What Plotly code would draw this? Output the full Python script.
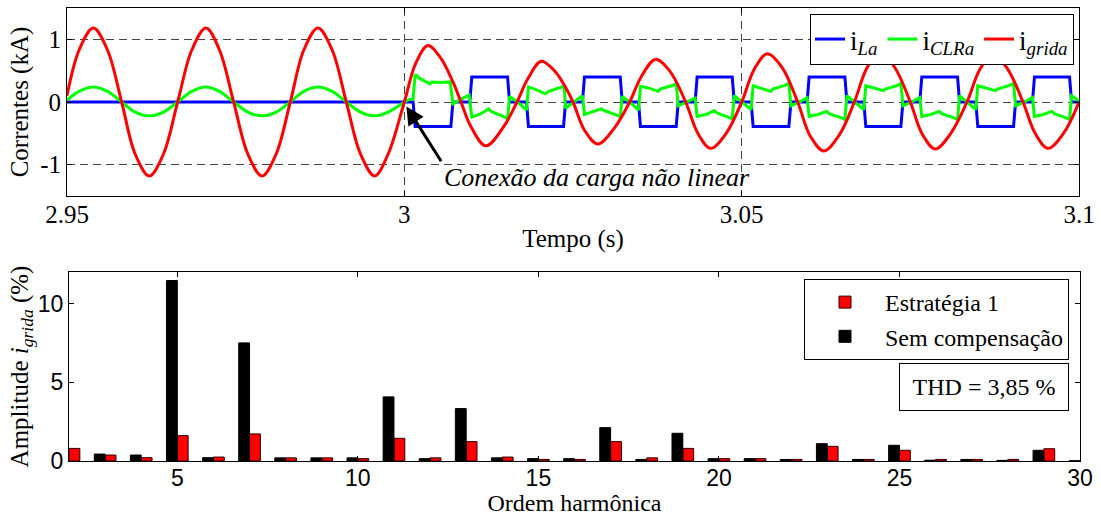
import plotly.graph_objects as go

# ---------------- top panel: currents (kA) vs time (s) ----------------
t_red = [2.9500, 2.9518, 2.9539, 2.9560, 2.9581, 2.9601, 2.9622, 2.9643, 2.9664,
         2.9685, 2.9706, 2.9726, 2.9747, 2.9768, 2.9789, 2.9810, 2.9831, 2.9851,
         2.9872, 2.9893, 2.9914, 2.9935, 2.9956, 2.9976, 3.0000,
         3.0017, 3.0035, 3.0054, 3.0072, 3.0084, 3.0099, 3.0121, 3.0148, 3.0167,
         3.0183, 3.0203, 3.0224, 3.0237, 3.0250, 3.0267, 3.0287, 3.0311, 3.0334,
         3.0351, 3.0372, 3.0393, 3.0417, 3.0435, 3.0454, 3.0477, 3.0500,
         3.0519, 3.0538, 3.0560, 3.0583, 3.0602, 3.0622, 3.0645, 3.0667,
         3.0686, 3.0705, 3.0727, 3.0750, 3.0768, 3.0787, 3.0810, 3.0834,
         3.0853, 3.0872, 3.0894, 3.0917, 3.0935, 3.0954, 3.0977, 3.1000]
v_red = [0.10, 0.83, 1.18, 0.83, 0.00, -0.83, -1.18, -0.83, 0.00,
         0.83, 1.18, 0.83, 0.00, -0.83, -1.18, -0.83, 0.00, 0.83,
         1.18, 0.83, 0.00, -0.83, -1.18, -0.83, 0.00,
         0.62, 0.90, 0.70, 0.32, 0.00, -0.40, -0.70, -0.38, 0.00,
         0.37, 0.65, 0.48, 0.27, 0.00, -0.45, -0.67, -0.42, 0.00,
         0.40, 0.68, 0.50, 0.00, -0.50, -0.74, -0.50, 0.00,
         0.53, 0.77, 0.55, 0.00, -0.55, -0.78, -0.52, 0.00,
         0.55, 0.80, 0.55, 0.00, -0.52, -0.75, -0.50, 0.00,
         0.52, 0.76, 0.53, 0.00, -0.50, -0.74, -0.50, 0.00]

t_green_pre = [2.9500, 2.9518, 2.9539, 2.9560, 2.9581, 2.9601, 2.9622, 2.9643, 2.9664,
               2.9685, 2.9706, 2.9726, 2.9747, 2.9768, 2.9789, 2.9810, 2.9831, 2.9851,
               2.9872, 2.9893, 2.9914, 2.9935, 2.9956, 2.9976, 3.0000]
v_green_pre = [0.03, 0.17, 0.24, 0.17, 0.00, -0.16, -0.22, -0.16, 0.00,
               0.17, 0.24, 0.17, 0.00, -0.16, -0.22, -0.16, 0.00, 0.17,
               0.24, 0.17, 0.00, -0.16, -0.22, -0.16, 0.00]

t_green_post = [3.0000, 3.0008, 3.0013, 3.0016, 3.0022, 3.0030, 3.0038, 3.0041, 3.0055,
                3.0068, 3.0072, 3.0085, 3.0096, 3.0100, 3.0113, 3.0125, 3.0130, 3.0145,
                3.0153, 3.0156, 3.0170, 3.0181,
                3.0184, 3.0197, 3.0209, 3.0214, 3.0230, 3.0237, 3.0239, 3.0252, 3.0264,
                3.0267, 3.0280, 3.0292, 3.0297, 3.0313, 3.0320, 3.0323, 3.0336, 3.0347,
                3.0350, 3.0363, 3.0376, 3.0380, 3.0396, 3.0403, 3.0406, 3.0419, 3.0431,
                3.0434, 3.0447, 3.0459, 3.0464, 3.0480, 3.0486, 3.0489, 3.0502, 3.0514,
                3.0517, 3.0530, 3.0543, 3.0547, 3.0563, 3.0570, 3.0573, 3.0586, 3.0597,
                3.0600, 3.0613, 3.0626, 3.0630, 3.0647, 3.0653, 3.0656, 3.0669, 3.0681,
                3.0684, 3.0697, 3.0710, 3.0714, 3.0730, 3.0736, 3.0739, 3.0752, 3.0764,
                3.0767, 3.0780, 3.0793, 3.0797, 3.0814, 3.0820, 3.0823, 3.0836, 3.0847,
                3.0850, 3.0863, 3.0876, 3.0880, 3.0896, 3.0903, 3.0906, 3.0919, 3.0931,
                3.0934, 3.0947, 3.0960, 3.0964, 3.0980, 3.0986, 3.0989, 3.1000]
v_green_post = [0.00, 0.04, 0.05, 0.44, 0.38, 0.34, 0.29, 0.32, 0.31,
                0.32, -0.03, 0.05, 0.11, -0.24, -0.19, -0.11, -0.16, -0.22,
                -0.27, 0.09, -0.02, -0.13,
                0.24, 0.19, 0.13, 0.17, 0.22, 0.25, -0.10, 0.00, 0.10,
                -0.20, -0.15, -0.11, -0.14, -0.20, -0.24, 0.09, -0.02, -0.13,
                0.25, 0.22, 0.17, 0.21, 0.26, 0.29, -0.06, 0.00, 0.06,
                -0.23, -0.20, -0.14, -0.18, -0.24, -0.27, 0.10, -0.02, -0.12,
                0.26, 0.22, 0.17, 0.21, 0.26, 0.30, -0.06, 0.00, 0.07,
                -0.23, -0.20, -0.15, -0.19, -0.25, -0.28, 0.10, -0.02, -0.12,
                0.26, 0.22, 0.18, 0.21, 0.26, 0.30, -0.06, 0.00, 0.07,
                -0.23, -0.20, -0.15, -0.19, -0.25, -0.28, 0.10, -0.02, -0.12,
                0.26, 0.22, 0.18, 0.21, 0.26, 0.30, -0.06, 0.00, 0.07,
                -0.23, -0.20, -0.15, -0.19, -0.25, -0.28, 0.10, 0.02]

t_blue = [2.9500, 3.0013, 3.0016, 3.0069, 3.0072, 3.0097, 3.0100, 3.0153, 3.0156,
          3.0181, 3.0184, 3.0236, 3.0239, 3.0264, 3.0267, 3.0320, 3.0323,
          3.0347, 3.0350, 3.0403, 3.0406, 3.0431, 3.0434, 3.0486, 3.0489,
          3.0514, 3.0517, 3.0570, 3.0573, 3.0597, 3.0600, 3.0653, 3.0656,
          3.0681, 3.0684, 3.0736, 3.0739, 3.0764, 3.0767, 3.0820, 3.0823,
          3.0847, 3.0850, 3.0903, 3.0906, 3.0931, 3.0934, 3.0986, 3.0989, 3.1000]
v_blue = [0.00, 0.00, -0.39, -0.39, 0.00, 0.00, 0.40, 0.40, 0.00,
          0.00, -0.39, -0.39, 0.00, 0.00, 0.40, 0.40, 0.00,
          0.00, -0.39, -0.39, 0.00, 0.00, 0.40, 0.40, 0.00,
          0.00, -0.39, -0.39, 0.00, 0.00, 0.40, 0.40, 0.00,
          0.00, -0.39, -0.39, 0.00, 0.00, 0.40, 0.40, 0.00,
          0.00, -0.39, -0.39, 0.00, 0.00, 0.40, 0.40, 0.00, 0.00]

time_ticks = [2.95, 3.0, 3.05, 3.1]
time_ticktext = ["2.95", "3", "3.05", "3.1"]
current_ticks = [-1, 0, 1]

# ---------------- bottom panel: harmonic spectrum (%) ----------------
harmonics = list(range(2, 31))
estrategia1 = [0.80, 0.38, 0.21, 1.61, 0.25, 1.72, 0.20, 0.20, 0.15, 1.44, 0.20, 1.23,
               0.25, 0.10, 0.10, 1.23, 0.20, 0.80, 0.15, 0.15, 0.10, 0.93, 0.10, 0.68,
               0.10, 0.10, 0.10, 0.78, 0.05]
sem_compensacao = [None, 0.44, 0.38, 11.46, 0.21, 7.50, 0.20, 0.20, 0.20, 4.07, 0.15, 3.33,
                   0.20, 0.15, 0.15, 2.12, 0.10, 1.76, 0.15, 0.15, 0.10, 1.10, 0.10, 1.00,
                   0.05, 0.10, 0.04, 0.68, 0.02]
harm_ticks = [5, 10, 15, 20, 25, 30]
amp_ticks = [0, 5, 10]

SERIF = "Liberation Serif"
SANS = "Liberation Sans"
W, H = 1101, 516

def px_x(p):
    return p / W

def px_y(p):
    return 1 - p / H

fig = go.Figure()

fig.add_trace(go.Scatter(x=t_blue, y=v_blue, mode="lines", name="i<sub><i>La</i></sub>",
                         line=dict(color="#0000FF", width=3), xaxis="x", yaxis="y",
                         legend="legend"))
fig.add_trace(go.Scatter(x=t_green_pre, y=v_green_pre, mode="lines", name="i<sub><i>CLRa</i></sub>",
                         line=dict(color="#00FF00", width=3, shape="spline"), xaxis="x", yaxis="y",
                         legendgroup="g", legend="legend"))
fig.add_trace(go.Scatter(x=t_green_post, y=v_green_post, mode="lines", name="i<sub><i>CLRa</i></sub>",
                         line=dict(color="#00FF00", width=3), xaxis="x", yaxis="y",
                         legendgroup="g", showlegend=False, legend="legend"))
fig.add_trace(go.Scatter(x=t_red, y=v_red, mode="lines", name="i<sub><i>grida</i></sub>",
                         line=dict(color="#FF0000", width=3, shape="spline"), xaxis="x", yaxis="y",
                         legend="legend"))

fig.add_trace(go.Bar(x=harmonics, y=estrategia1, name="Estratégia 1", width=0.3, offset=0.0,
                     marker=dict(color="#FF0000", line=dict(color="#300000", width=1)),
                     xaxis="x2", yaxis="y2", legend="legend2"))
fig.add_trace(go.Bar(x=harmonics, y=sem_compensacao, name="Sem compensação", width=0.3, offset=-0.3,
                     marker=dict(color="#000000", line=dict(color="#000000", width=1)),
                     xaxis="x2", yaxis="y2", legend="legend2"))

axis_common = dict(showline=True, linecolor="black", linewidth=1, mirror="ticks",
                   ticks="inside", ticklen=5, tickcolor="black", zeroline=False,
                   automargin=False)

fig.update_layout(
    width=W, height=H, template="none",
    paper_bgcolor="white", plot_bgcolor="white",
    margin=dict(l=0, r=0, t=0, b=0),
    barmode="overlay",
    font=dict(family=SERIF, size=22, color="black"),
    xaxis=dict(domain=[px_x(67), px_x(1079)], range=[2.95, 3.1], anchor="y",
               tickvals=time_ticks, ticktext=time_ticktext,
               tickfont=dict(family=SERIF, size=25), ticklabelstandoff=-4,
               showgrid=True, gridcolor="#444444", gridwidth=1, griddash="8px,5px",
               title=dict(text="Tempo (s)", font=dict(family=SERIF, size=25), standoff=2),
               **axis_common),
    yaxis=dict(domain=[px_y(196), px_y(8)], range=[-1.5, 1.5], anchor="x",
               tickvals=current_ticks, ticktext=["-1", "0", "1"],
               tickfont=dict(family=SERIF, size=25),
               showgrid=True, gridcolor="#444444", gridwidth=1, griddash="8px,5px",
               title=dict(text="Correntes (kA)", font=dict(family=SERIF, size=25), standoff=4),
               **axis_common),
    xaxis2=dict(domain=[px_x(69), px_x(1080)], range=[2, 30], anchor="y2",
                tickvals=harm_ticks, tickfont=dict(family=SANS, size=23), ticklabelstandoff=-4,
                showgrid=False,
                title=dict(text="Ordem harmônica", font=dict(family=SERIF, size=24), standoff=0),
                **axis_common),
    yaxis2=dict(domain=[px_y(461), px_y(272)], range=[0, 12], anchor="x2",
                tickvals=amp_ticks, tickfont=dict(family=SANS, size=23),
                showgrid=False,
                title=dict(text="Amplitude <i>i</i><sub><i>grida</i></sub> (%)",
                           font=dict(family=SERIF, size=25), standoff=2),
                **axis_common),
    legend=dict(orientation="h", x=px_x(1074), xanchor="right", y=px_y(14), yanchor="top",
                bgcolor="white", bordercolor="black", borderwidth=1,
                font=dict(family=SERIF, size=27), itemwidth=30, tracegroupgap=0),
    legend2=dict(orientation="v", x=px_x(1069), xanchor="right", y=px_y(279), yanchor="top",
                 bgcolor="white", bordercolor="black", borderwidth=1,
                 font=dict(family=SERIF, size=24), itemwidth=70),
    showlegend=True,
)

fig.add_annotation(x=3.0003, y=-0.07, ax=3.0056, ay=-0.97, xref="x", yref="y",
                   axref="x", ayref="y", text="", showarrow=True,
                   arrowhead=2, arrowsize=1.2, arrowwidth=3, arrowcolor="black", standoff=0)
fig.add_annotation(x=3.0056, y=-1.21, xref="x", yref="y", text="<i>Conexão da carga não linear</i>",
                   showarrow=False, xanchor="left", yanchor="middle",
                   font=dict(family=SERIF, size=26, color="black"))
fig.add_annotation(x=px_x(1069), y=px_y(387), xref="paper", yref="paper", text="THD = 3,85 %",
                   showarrow=False, xanchor="right", yanchor="middle",
                   bordercolor="black", borderwidth=1, borderpad=4, bgcolor="white",
                   width=160, height=38,
                   font=dict(family=SERIF, size=24, color="black"))

fig.write_html("out.html", config={"displayModeBar": False},
               post_script="document.body.style.margin='0';document.body.style.overflow='hidden';")
